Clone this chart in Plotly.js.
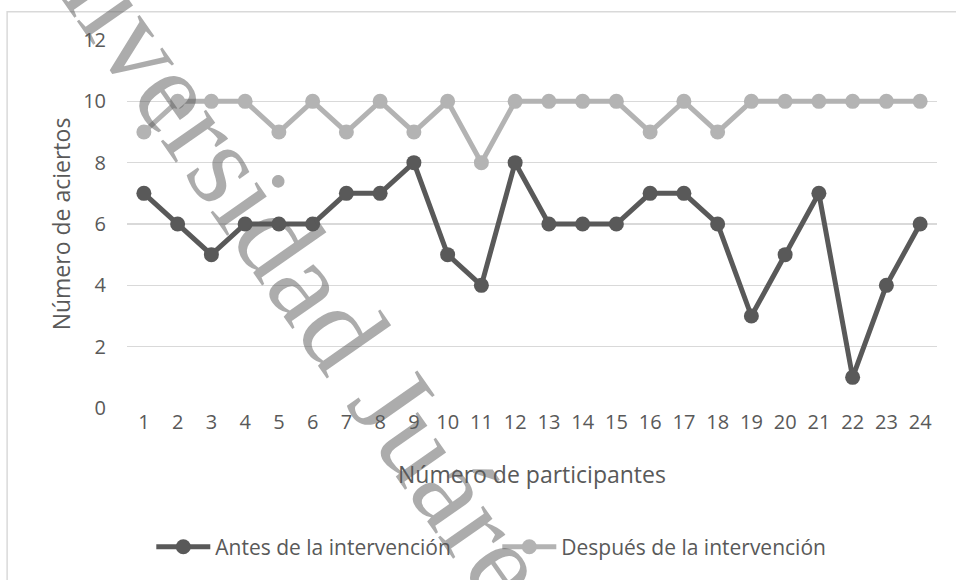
<!DOCTYPE html>
<html>
<head>
<meta charset="utf-8">
<script src="https://cdn.plot.ly/plotly-3.0.1.min.js"></script>
<style>html,body{margin:0;padding:0;background:#fff;}</style>
</head>
<body>
<div id="chart" style="width:956px;height:580px;"></div>
<script>
const participantes = ["1","2","3","4","5","6","7","8","9","10","11","12","13","14","15","16","17","18","19","20","21","22","23","24"];
const antes = [7,6,5,6,6,6,7,7,8,5,4,8,6,6,6,7,7,6,3,5,7,1,4,6];
const despues = [9,10,10,10,9,10,9,10,9,10,8,10,10,10,10,9,10,9,10,10,10,10,10,10];
const serieNombres = ["Antes de la intervención", "Después de la intervención"];
const yTicks = [0,2,4,6,8,10,12];
const marcaAgua = "Universidad Juárez";

const FONT = "'Open Sans', Lato, sans-serif";
const traces = [
  {x: participantes, y: antes, name: serieNombres[0], type: "scatter", mode: "lines+markers",
   line: {color: "#595959", width: 5}, marker: {color: "#595959", size: 15}},
  {x: participantes, y: despues, name: serieNombres[1], type: "scatter", mode: "lines+markers",
   line: {color: "#b3b3b3", width: 5}, marker: {color: "#b3b3b3", size: 15}}
];
const layout = {
  width: 956, height: 580,
  margin: {l: 127, r: 19, t: 40, b: 172},
  paper_bgcolor: "#fff", plot_bgcolor: "#fff",
  font: {family: FONT, color: "#595959", size: 20},
  showlegend: true,
  legend: {orientation: "h", x: 0.03, xanchor: "left", y: -0.378, yanchor: "middle",
           itemwidth: 54, entrywidth: 277, entrywidthmode: "pixels",
           font: {family: FONT, size: 21, color: "#595959"}},
  xaxis: {type: "category", range: [-0.5, 23.5], showgrid: false, zeroline: false,
          showline: false, ticks: "", tickfont: {size: 20, color: "#595959"},
          title: {text: "Número de participantes", font: {size: 23, color: "#595959"}, standoff: 32}},
  yaxis: {range: [0, 12], tickvals: yTicks, showgrid: true, gridcolor: "#d9d9d9", gridwidth: 1.5,
          zeroline: false, showline: false, ticks: "", ticklabelstandoff: 20,
          tickfont: {size: 20, color: "#595959"},
          title: {text: "Número de aciertos", font: {size: 23, color: "#595959"}, standoff: 6}},
  shapes: [{type: "rect", xref: "paper", yref: "paper", x0: -0.148, x1: 1.1, y0: -0.7, y1: 1.077,
            line: {color: "#d9d9d9", width: 1.5}, fillcolor: "rgba(0,0,0,0)", layer: "below"}],
  annotations: [{text: marcaAgua, xref: "paper", yref: "paper", x: 0.2, y: 0.42,
                 xanchor: "center", yanchor: "middle",
                 showarrow: false, textangle: 55, font: {family: "'Liberation Serif', serif", size: 120, color: "rgba(90,90,90,0.5)"}}]
};
Plotly.newPlot("chart", traces, layout, {displayModeBar: false, staticPlot: true});
</script>
</body>
</html>
